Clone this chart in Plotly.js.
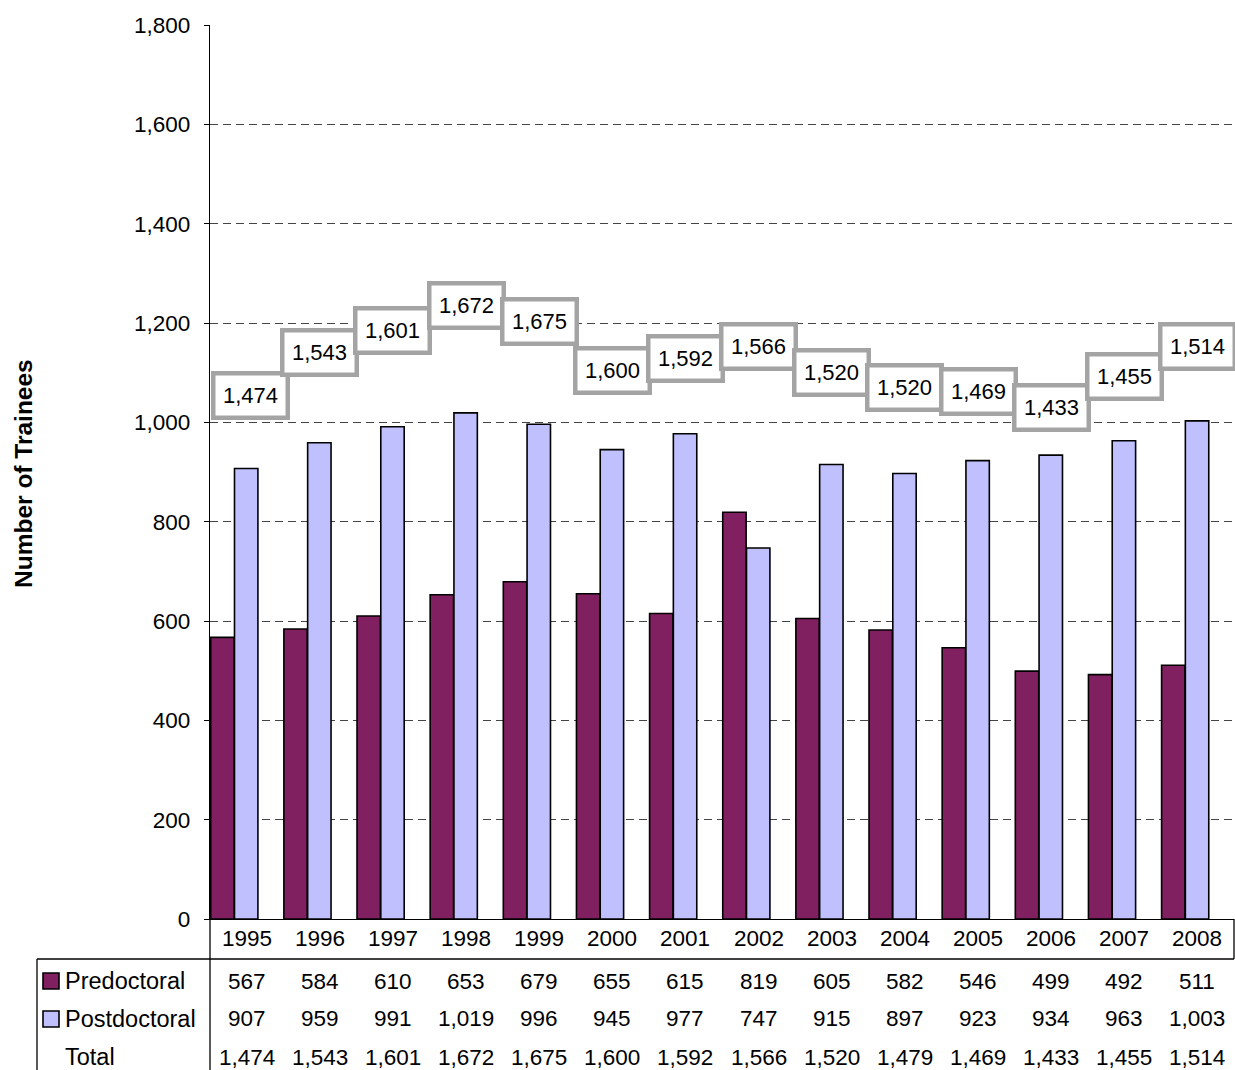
<!DOCTYPE html>
<html>
<head>
<meta charset="utf-8">
<script src="https://cdn.plot.ly/plotly-3.0.1.min.js"></script>
<style>html,body{margin:0;padding:0;background:#fff;}#chart{width:1235px;height:1070px;}</style>
</head>
<body>
<div id="chart"></div>
<script>
const years = [1995,1996,1997,1998,1999,2000,2001,2002,2003,2004,2005,2006,2007,2008];
const predoctoral = [567,584,610,653,679,655,615,819,605,582,546,499,492,511];
const postdoctoral = [907,959,991,1019,996,945,977,747,915,897,923,934,963,1003];
const total = [1474,1543,1601,1672,1675,1600,1592,1566,1520,1479,1469,1433,1455,1514];
// total labels as printed above the bars (2004 label reads 1,520 in the chart)
const totalLabels = [1474,1543,1601,1672,1675,1600,1592,1566,1520,1520,1469,1433,1455,1514];
// heights (axis units) at which the total label boxes sit
const labelHeight = [1055,1140,1184,1236,1204,1105,1128,1152,1101,1071,1063,1029,1093,1152];
const rowNames = ['Predoctoral','Postdoctoral','Total'];

const FONT = 'Liberation Sans, Arial, sans-serif';
const fmt = v => v.toLocaleString('en-US');
const PRED_COLOR = '#802060';
const POST_COLOR = '#c0c0ff';

const W = 1235, H = 1070, L = 210, R = 1, T = 25, B = 151;
const pw = W - L - R, ph = H - T - B;
const px = x => (x - L) / pw;          // pixel x -> paper
const py = y => (H - B - y) / ph;      // pixel y -> paper

const traces = [
  {type:'bar', x: years, y: predoctoral, name: rowNames[0], offset: -0.49, width: 0.32,
   marker:{color: PRED_COLOR, line:{color:'#000', width:1.6}}, hoverinfo:'y'},
  {type:'bar', x: years, y: postdoctoral, name: rowNames[1], offset: -0.165, width: 0.32,
   marker:{color: POST_COLOR, line:{color:'#000', width:1.6}}, hoverinfo:'y'}
];

const annotations = [];
// total label boxes
years.forEach((yr, i) => {
  annotations.push({
    x: yr, y: labelHeight[i], xref:'x', yref:'y', text: fmt(totalLabels[i]),
    showarrow:false, font:{family:FONT, size:22, color:'#000'},
    bgcolor:'#fff', bordercolor:'#a4a4a4', borderwidth:4.5, borderpad:7.5,
    xanchor:'center', yanchor:'middle', xshift: i === 0 ? 4 : 0
  });
});
// year row
years.forEach((yr) => {
  annotations.push({x: yr, y: py(938), xref:'x', yref:'paper', text: String(yr), showarrow:false,
    font:{family:FONT, size:22.5, color:'#000'}, xanchor:'center', yanchor:'middle'});
});
// table rows
const rows = [predoctoral, postdoctoral, total];
const rowY = [981, 1019, 1057];
rows.forEach((arr, r) => {
  annotations.push({x: px(63), y: py(rowY[r]), xref:'paper', yref:'paper', text: rowNames[r], showarrow:false,
    font:{family:FONT, size:23.5, color:'#000'}, xanchor:'left', yanchor:'middle'});
  arr.forEach((v, i) => {
    annotations.push({x: years[i], y: py(rowY[r]), xref:'x', yref:'paper', text: fmt(v), showarrow:false,
      font:{family:FONT, size:22.5, color:'#000'}, xanchor:'center', yanchor:'middle'});
  });
});
// y axis title
annotations.push({x: px(23), y: py(474), xref:'paper', yref:'paper', text:'<b>Number of Trainees</b>',
  textangle:-90, showarrow:false, font:{family:FONT, size:24.5, color:'#000'}, xanchor:'center', yanchor:'middle'});

const lineStyle = {color:'#000', width:1.3};
const shapes = [
  {type:'line', xref:'paper', yref:'paper', x0:px(37), x1:1, y0:py(959), y1:py(959), line:lineStyle},
  {type:'line', xref:'paper', yref:'paper', x0:px(37), x1:px(37), y0:py(959), y1:py(1072), line:lineStyle},
  {type:'line', xref:'paper', yref:'paper', x0:0, x1:0, y0:0, y1:py(1072), line:lineStyle},
  {type:'line', xref:'paper', yref:'paper', x0:1, x1:1, y0:0, y1:py(959), line:lineStyle},
  {type:'rect', xref:'paper', yref:'paper', x0:px(43), x1:px(59), y0:py(973), y1:py(989),
   fillcolor:PRED_COLOR, line:{color:'#000', width:1.6}},
  {type:'rect', xref:'paper', yref:'paper', x0:px(43), x1:px(59), y0:py(1011), y1:py(1027),
   fillcolor:POST_COLOR, line:{color:'#000', width:1.6}}
];

const layout = {
  width: W, height: H,
  margin:{l:L, r:R, t:T, b:B, pad:0},
  paper_bgcolor:'#fff', plot_bgcolor:'#fff',
  barmode:'overlay', showlegend:false,
  font:{family:FONT, size:22.5, color:'#000'},
  xaxis:{range:[years[0]-0.5, years[years.length-1]+0.5], showticklabels:false, ticks:'',
    showgrid:false, zeroline:false, showline:true, linecolor:'#000', linewidth:1.3, fixedrange:true},
  yaxis:{range:[0,1800], dtick:200, tick0:0, tickformat:',', ticks:'outside', ticklen:5,
    tickcolor:'#000', tickwidth:1, showline:true, linecolor:'#000', linewidth:1.3,
    ticklabelstandoff:9,
    showgrid:true, gridcolor:'#444', gridwidth:1, griddash:'8px,5px', zeroline:false,
    tickfont:{family:FONT, size:22.5, color:'#000'}, automargin:false, fixedrange:true},
  annotations: annotations,
  shapes: shapes
};

Plotly.newPlot('chart', traces, layout, {staticPlot:true, displayModeBar:false});
</script>
</body>
</html>
